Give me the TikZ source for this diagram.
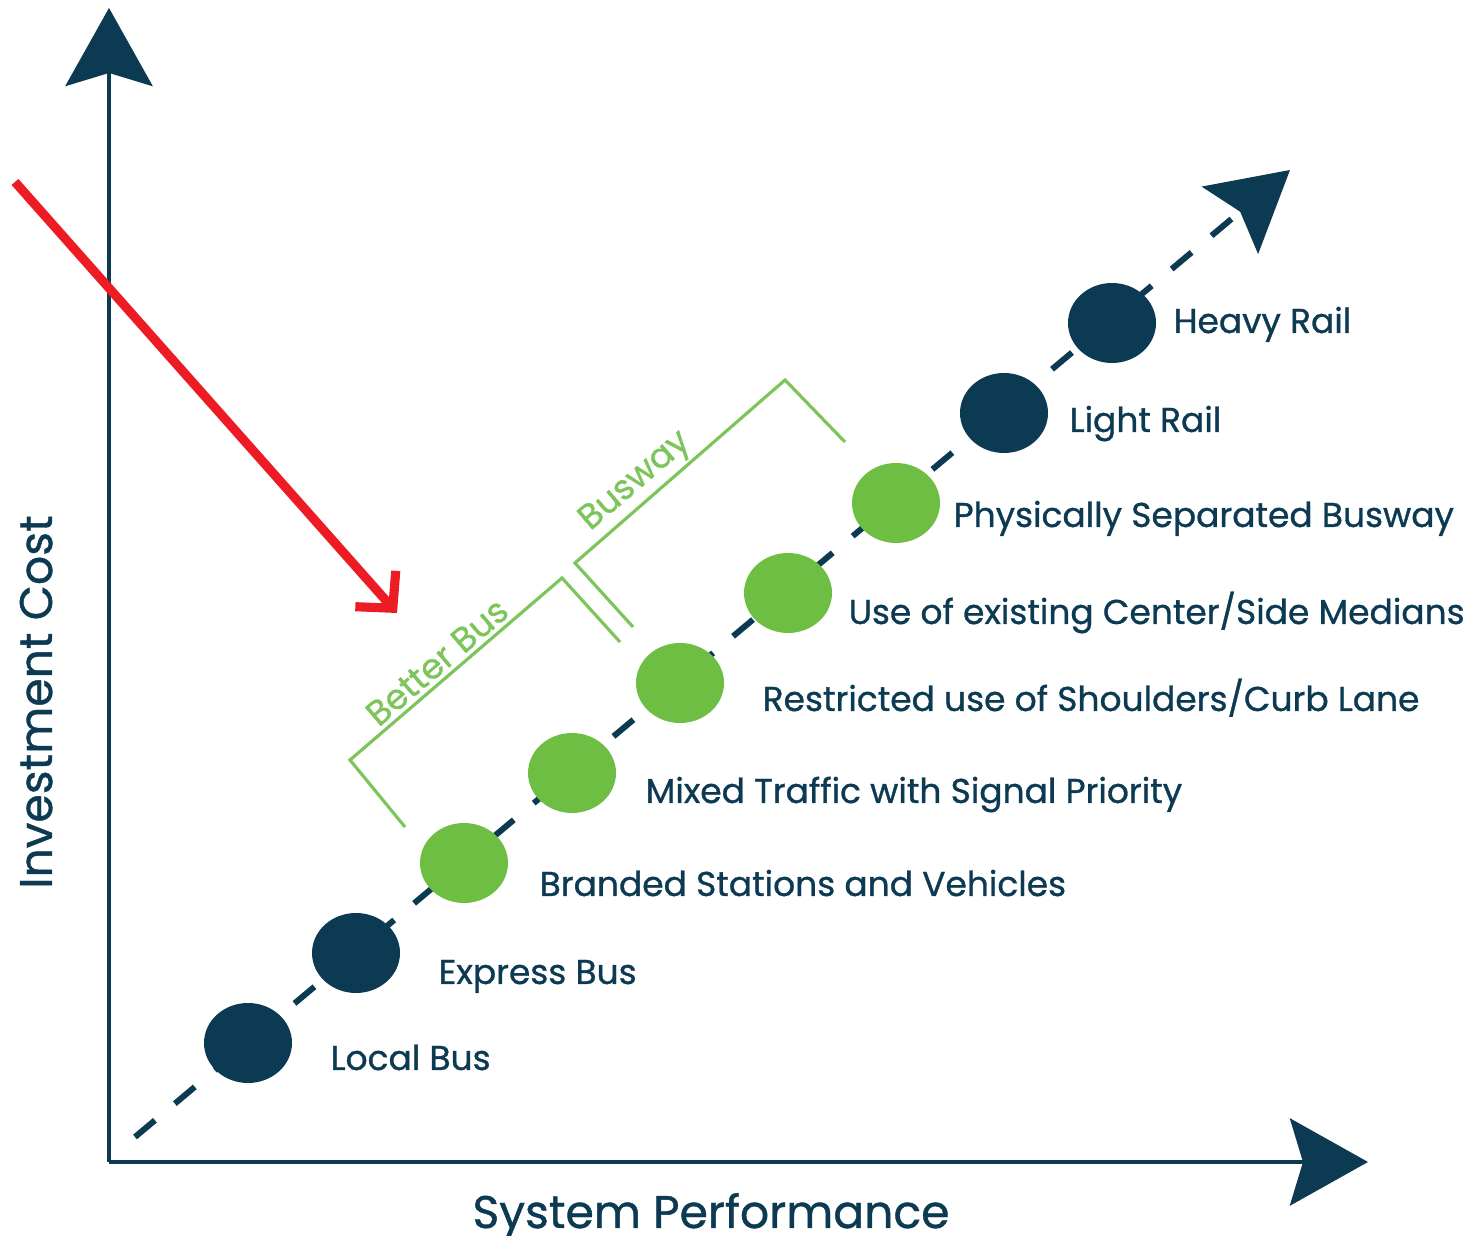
\documentclass[tikz,border=0pt]{standalone}
\usepackage{fontspec}
\setmainfont{Poppins}[FakeBold=0.9]
\usetikzlibrary{arrows.meta,shapes.geometric}
\definecolor{navy}{RGB}{12,58,82}
\definecolor{dotgreen}{RGB}{111,190,68}
\definecolor{linegreen}{RGB}{125,197,91}
\definecolor{arrowred}{RGB}{237,28,36}
\tikzset{
  bigtip/.style={-{Stealth[length=7.8mm,width=8.7mm,inset=1.3mm]}},
  axis/.style={navy,line width=1.4pt,bigtip},
  dot/.style={ellipse,minimum width=8.8mm,minimum height=8mm,inner sep=0pt},
  lbl/.style={anchor=base west,inner sep=0pt,text=navy,font=\fontsize{9.8}{12}\selectfont},
  axlbl/.style={anchor=base,inner sep=0pt,text=navy,font=\fontsize{13}{15}\selectfont},
  bracket/.style={linegreen,line width=0.9pt},
  brlbl/.style={inner sep=0pt,text=linegreen,font=\fontsize{9.9}{12}\selectfont,rotate=40.6}
}
\begin{document}
\begin{tikzpicture}
        \useasboundingbox (0,0) rectangle (14.81,12.36);
        % axes
        \coordinate (o) at (1.09,0.74);
        \coordinate (ytop) at (1.09,12.28);
        \coordinate (xend) at (13.68,0.74);
        \draw[axis] (o)--(ytop);
        \draw[axis] (o)--(xend);
        \node[axlbl] (xlab) at (7.11,0.08) {System Performance};
        \node[axlbl,rotate=90] (ylab) at (0.52,5.34) {Investment Cost};
        % trend line
        \coordinate (dstart) at (1.35,0.99);
        \coordinate (dend) at (12.90,10.66);
        \draw[navy,line width=1.7pt,dash pattern=on 2.6mm off 2.6mm,bigtip] (dstart)--(dend);
        % circles
        \foreach \i/\c in {0/navy,1/navy,2/dotgreen,3/dotgreen,4/dotgreen,5/dotgreen,6/dotgreen,7/navy,8/navy}{
            \node[dot,fill=\c] (c\i) at ({2.48+1.08*\i},{1.93+0.90*\i}) {};
        }
        \node[lbl] (t0) at (3.30,1.66) {Local Bus};
        \node[lbl] (t1) at (4.38,2.52) {Express Bus};
        \node[lbl] (t2) at (5.39,3.40) {Branded Stations and Vehicles};
        \node[lbl] (t3) at (6.45,4.33) {Mixed Traffic with Signal Priority};
        \node[lbl] (t4) at (7.62,5.25) {Restricted use of Shoulders/Curb Lane};
        \node[lbl] (t5) at (8.48,6.12) {Use of existing Center/Side Medians};
        \node[lbl] (t6) at (9.53,7.09) {Physically Separated Busway};
        \node[lbl] (t7) at (10.69,8.04) {Light Rail};
        \node[lbl] (t8) at (11.73,9.03) {Heavy Rail};
        % brackets
        \draw[bracket] (4.05,4.09)--(3.50,4.76)--(5.62,6.58)--(6.20,5.94);
        \draw[bracket] (6.33,6.09)--(5.75,6.73)--(7.85,8.56)--(8.45,7.94);
        \node[brlbl] (bb) at (4.37,5.74) {Better Bus};
        \node[brlbl] (bw) at (6.36,7.54) {Busway};
        % red pointer
        \coordinate (rstart) at (0.15,10.54);
        \coordinate (rend) at (3.97,6.23);
        \draw[arrowred,line width=2.6pt,-{Straight Barb[length=2.6mm,width=5.4mm]}] (rstart)--(rend);
\end{tikzpicture}
\end{document}
